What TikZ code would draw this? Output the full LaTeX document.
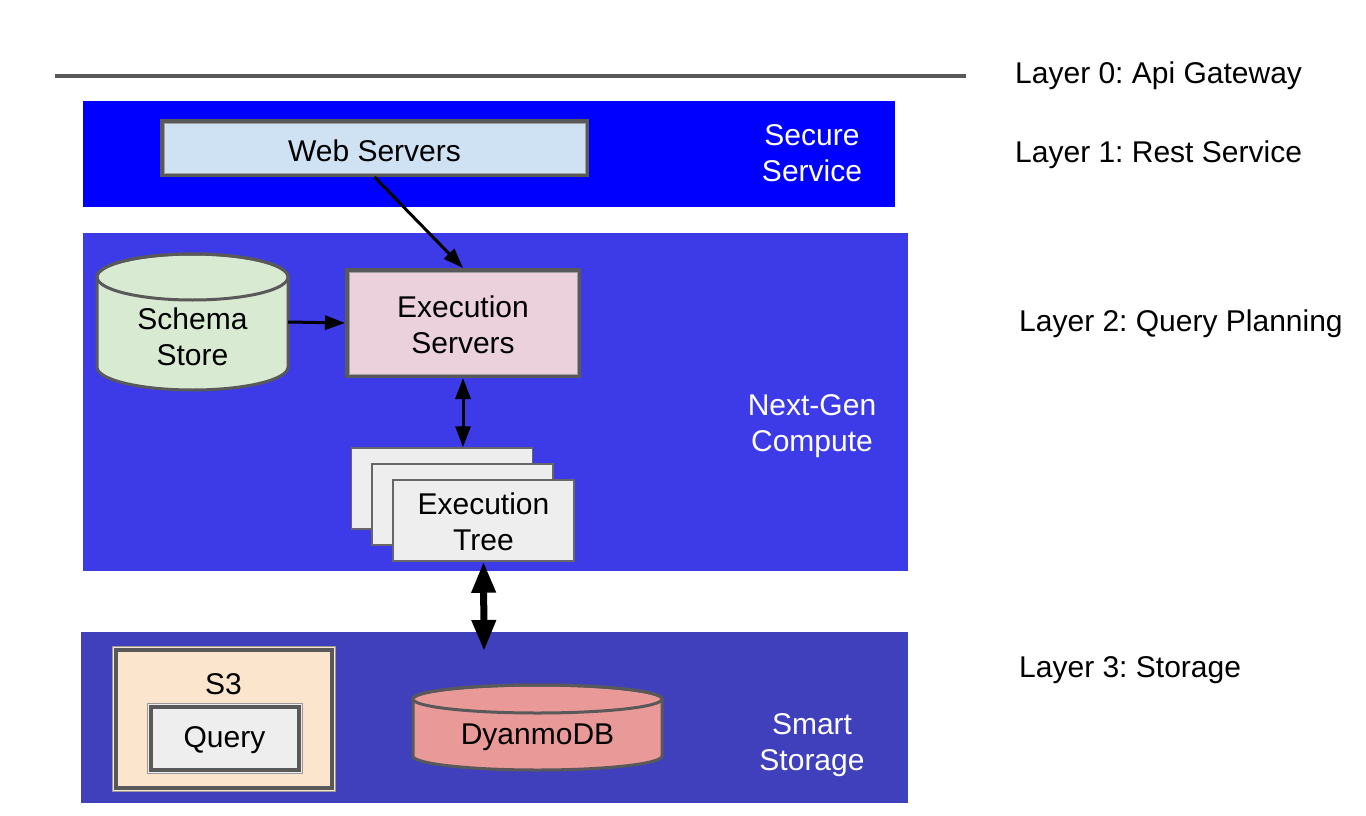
\documentclass[tikz,border=0pt]{standalone}
\usepackage{fontspec}
\setmainfont{Liberation Sans}
\usetikzlibrary{arrows.meta,calc}
\frenchspacing
\definecolor{bandA}{HTML}{0000FF}
\definecolor{bandB}{HTML}{3D3BE8}
\definecolor{bandC}{HTML}{4040BC}
\definecolor{bord}{HTML}{595959}
\definecolor{webfill}{HTML}{CFE2F3}
\definecolor{execfill}{HTML}{EAD1DC}
\definecolor{schemafill}{HTML}{D9EAD3}
\definecolor{treefill}{HTML}{EEEEEE}
\definecolor{sthreefill}{HTML}{FCE5CD}
\definecolor{dynfill}{HTML}{EA9999}
\begin{document}
\begin{tikzpicture}[x=1pt,y=-1pt,
  lbl/.style={font=\fontsize{30}{36}\selectfont\frenchspacing, align=center, inner sep=0pt},
  wlbl/.style={lbl, text=white},
  layerlbl/.style={lbl, anchor=west},
  dbox/.style={lbl, draw=bord, line width=4pt},
  innerline/.style={draw=gray!75, line width=1pt},
  outerline/.style={draw=gray!80, line width=1pt},
  treebox/.style={lbl, draw=black!60, line width=1.5pt, fill=treefill, minimum width=181pt, minimum height=81pt},
  cyl/.style={draw=bord, line width=3pt},
  arr/.style={draw=black, line width=3pt, -{Triangle[length=20pt,width=14pt]}},
  darr/.style={draw=black, line width=3pt, {Triangle[length=21pt,width=15pt]}-{Triangle[length=21pt,width=15pt]}},
  bigarr/.style={draw=black, line width=7pt, {Triangle[length=31pt,width=23pt]}-{Triangle[length=31pt,width=23pt]}}
]
\useasboundingbox (0,0) rectangle (1366,816);
\fill[white] (0,0) rectangle (1366,816);

% bands
\fill[bandA] (83,101) rectangle (895,207);
\fill[bandB] (83,233) rectangle (908,571);
\fill[bandC] (81,632) rectangle (908,803);

% top line
\draw[bord, line width=4pt] (55,76) -- (966,76);

% layer labels
\node[layerlbl] (l0) at (1015,76) {Layer 0: Api Gateway};
\node[layerlbl] (l1) at (1015,155) {Layer 1: Rest Service};
\node[layerlbl] (l2) at (1019,324) {Layer 2: Query Planning};
\node[layerlbl] (l3) at (1019,670) {Layer 3: Storage};

% band labels
\node[wlbl] (secure) at (812,153) {Secure\\Service};
\node[wlbl] (nextgen) at (812,426) {Next-Gen\\Compute};
\node[wlbl] (smart) at (812,745) {Smart\\Storage};

% Web servers
\node[dbox, fill=webfill, minimum width=425pt, minimum height=54pt] (web) at (374.5,148) {};
\draw[innerline] ($(web.north west)+(4,4)$) rectangle ($(web.south east)+(-4,-4)$);
\node[lbl] (webtext) at (374.5,150.5) {Web Servers};

% Execution servers
\node[dbox, fill=execfill, minimum width=232pt, minimum height=106pt] (exec) at (463,323) {};
\draw[innerline] ($(exec.north west)+(4,4)$) rectangle ($(exec.south east)+(-4,-4)$);
\node[lbl] (exectext) at (463,325) {Execution\\Servers};

% Schema store cylinder
\node[minimum width=191pt, minimum height=136pt, inner sep=0pt] (schema) at (192.5,322) {};
\path[cyl, fill=schemafill] (97,277) -- (97,367)
  arc[start angle=180, end angle=360, x radius=95.5pt, y radius=23pt]
  -- (288,277)
  arc[start angle=0, end angle=180, x radius=95.5pt, y radius=23pt] -- cycle;
\draw[cyl] (192.5,277) ellipse [x radius=95.5pt, y radius=23pt];
\node[lbl] (schematext) at (192.5,336.5) {Schema\\Store};

% Execution tree stack
\node[treebox] (tree1) at (442,488.5) {};
\node[treebox] (tree2) at (462.5,504.5) {};
\node[treebox] (tree3) at (483.5,520.5) {};
\node[lbl] (treetext) at (483.5,521.5) {Execution\\Tree};

% S3
\node[outerline, fill=sthreefill, minimum width=223pt, minimum height=145pt, inner sep=0pt] (sthree) at (223.5,718.5) {};
\draw[bord, line width=4pt] ($(sthree.north west)+(4,4)$) rectangle ($(sthree.south east)+(-4,-4)$);
\node[lbl] (sthreetext) at (223.5,684) {S3};
\node[outerline, fill=treefill, minimum width=155pt, minimum height=70pt, inner sep=0pt] (query) at (224.5,738) {};
\draw[bord, line width=4pt] ($(query.north west)+(4,4)$) rectangle ($(query.south east)+(-4,-4)$);
\node[lbl] (querytext) at (224.5,740.5) {Query};

% DynamoDB cylinder
\node[minimum width=249pt, minimum height=85pt, inner sep=0pt] (dyn) at (537.5,727.5) {};
\path[cyl, fill=dynfill] (413,699) -- (413,756)
  arc[start angle=180, end angle=360, x radius=124.5pt, y radius=14pt]
  -- (662,699)
  arc[start angle=0, end angle=180, x radius=124.5pt, y radius=14pt] -- cycle;
\draw[cyl] (537.5,699) ellipse [x radius=124.5pt, y radius=14pt];
\node[lbl] (dyntext) at (537.5,737) {DyanmoDB};

% connectors
\coordinate (dyntip) at (484,651);
\draw[arr] (web.south) -- (exec.north);
\draw[arr] (schema.east) -- (exec.west);
\draw[darr] (exec.south) -- (exec.south |- tree1.north);
\draw[bigarr] (tree3.south) -- (dyntip);
\end{tikzpicture}
\end{document}
